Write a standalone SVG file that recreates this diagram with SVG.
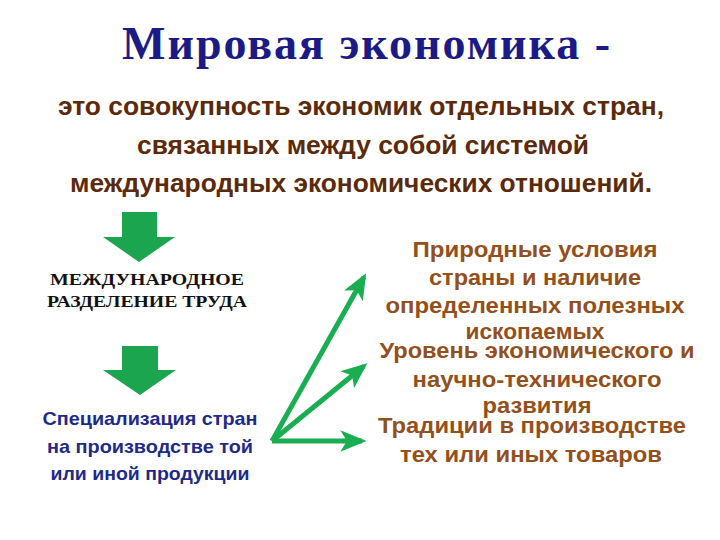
<svg xmlns="http://www.w3.org/2000/svg" width="720" height="540" viewBox="0 0 720 540">
<style>
.title{font-family:"Liberation Serif","DejaVu Serif",serif;font-weight:bold;font-size:46px;fill:#1c1a86}
.sub{font-family:"Liberation Sans Narrow","Liberation Sans",sans-serif;font-weight:bold;font-size:26px;fill:#5a2a0a}
.serif{font-family:"Liberation Serif",serif;font-weight:bold;font-size:16px;fill:#111}
.blue{font-family:"Liberation Sans",sans-serif;font-weight:bold;font-size:19px;fill:#1e2a8a}
.brown{font-family:"Liberation Sans",sans-serif;font-weight:bold;font-size:22px;fill:#93501c}
.down{fill:#1aa54e}
.conn{stroke:#1aae52;stroke-width:5;fill:none;marker-end:url(#ah)}
</style>
<defs>
<marker id="ah" viewBox="0 0 12 10" refX="10" refY="5" markerWidth="5.2" markerHeight="4.4" orient="auto" markerUnits="strokeWidth">
<path d="M0,0 L12,5 L0,10 L3,5 Z" fill="#1aae52"/>
</marker>
</defs>
<rect width="720" height="540" fill="#fff"/>
<g id="title">
<text class="title" x="366" y="59" text-anchor="middle" textLength="488" lengthAdjust="spacing">Мировая  экономика -</text>
</g>
<g id="definition">
<text class="sub" x="361" y="115" text-anchor="middle" textLength="606" lengthAdjust="spacingAndGlyphs">это совокупность экономик отдельных стран,</text>
<text class="sub" x="363" y="154" text-anchor="middle" textLength="452" lengthAdjust="spacingAndGlyphs">связанных между собой системой</text>
<text class="sub" x="361" y="192" text-anchor="middle" textLength="582" lengthAdjust="spacingAndGlyphs">международных экономических отношений.</text>
</g>
<g id="arrow-down-1">
<path class="down" d="M122,212 H157 V237 H175 L139,262 L103,237 H122 Z"/>
</g>
<g id="division">
<text class="serif" x="147" y="285" text-anchor="middle" textLength="194" lengthAdjust="spacingAndGlyphs">МЕЖДУНАРОДНОЕ</text>
<text class="serif" x="147" y="307" text-anchor="middle" textLength="200" lengthAdjust="spacingAndGlyphs">РАЗДЕЛЕНИЕ  ТРУДА</text>
</g>
<g id="arrow-down-2">
<path class="down" d="M122,346 H158 V370 H176 L140,395 L103,370 H122 Z"/>
</g>
<g id="specialization">
<text class="blue" x="150" y="425" text-anchor="middle" textLength="215" lengthAdjust="spacingAndGlyphs">Специализация стран</text>
<text class="blue" x="150" y="453" text-anchor="middle" textLength="206" lengthAdjust="spacingAndGlyphs">на производстве той</text>
<text class="blue" x="150" y="480" text-anchor="middle" textLength="199" lengthAdjust="spacingAndGlyphs">или иной продукции</text>
</g>
<g id="connectors">
<line class="conn" x1="272" y1="441" x2="364" y2="277"/>
<line class="conn" x1="272" y1="441" x2="364" y2="366"/>
<line class="conn" x1="272" y1="441" x2="362" y2="441"/>
</g>
<g id="factor-nature">
<text class="brown" x="535" y="257" text-anchor="middle" textLength="245" lengthAdjust="spacingAndGlyphs">Природные условия</text>
<text class="brown" x="535" y="285" text-anchor="middle" textLength="212" lengthAdjust="spacingAndGlyphs">страны и наличие</text>
<text class="brown" x="535" y="313" text-anchor="middle" textLength="299" lengthAdjust="spacingAndGlyphs">определенных полезных</text>
<text class="brown" x="535" y="339" text-anchor="middle" textLength="139" lengthAdjust="spacingAndGlyphs">ископаемых</text>
</g>
<g id="factor-level">
<text class="brown" x="537" y="358" text-anchor="middle" textLength="315" lengthAdjust="spacingAndGlyphs">Уровень экономического и</text>
<text class="brown" x="537" y="387" text-anchor="middle" textLength="249" lengthAdjust="spacingAndGlyphs">научно-технического</text>
<text class="brown" x="537" y="413" text-anchor="middle" textLength="109" lengthAdjust="spacingAndGlyphs">развития</text>
</g>
<g id="factor-tradition">
<text class="brown" x="532" y="433" text-anchor="middle" textLength="308" lengthAdjust="spacingAndGlyphs">Традиции в производстве</text>
<text class="brown" x="531" y="462" text-anchor="middle" textLength="262" lengthAdjust="spacingAndGlyphs">тех или иных товаров</text>
</g>
</svg>
